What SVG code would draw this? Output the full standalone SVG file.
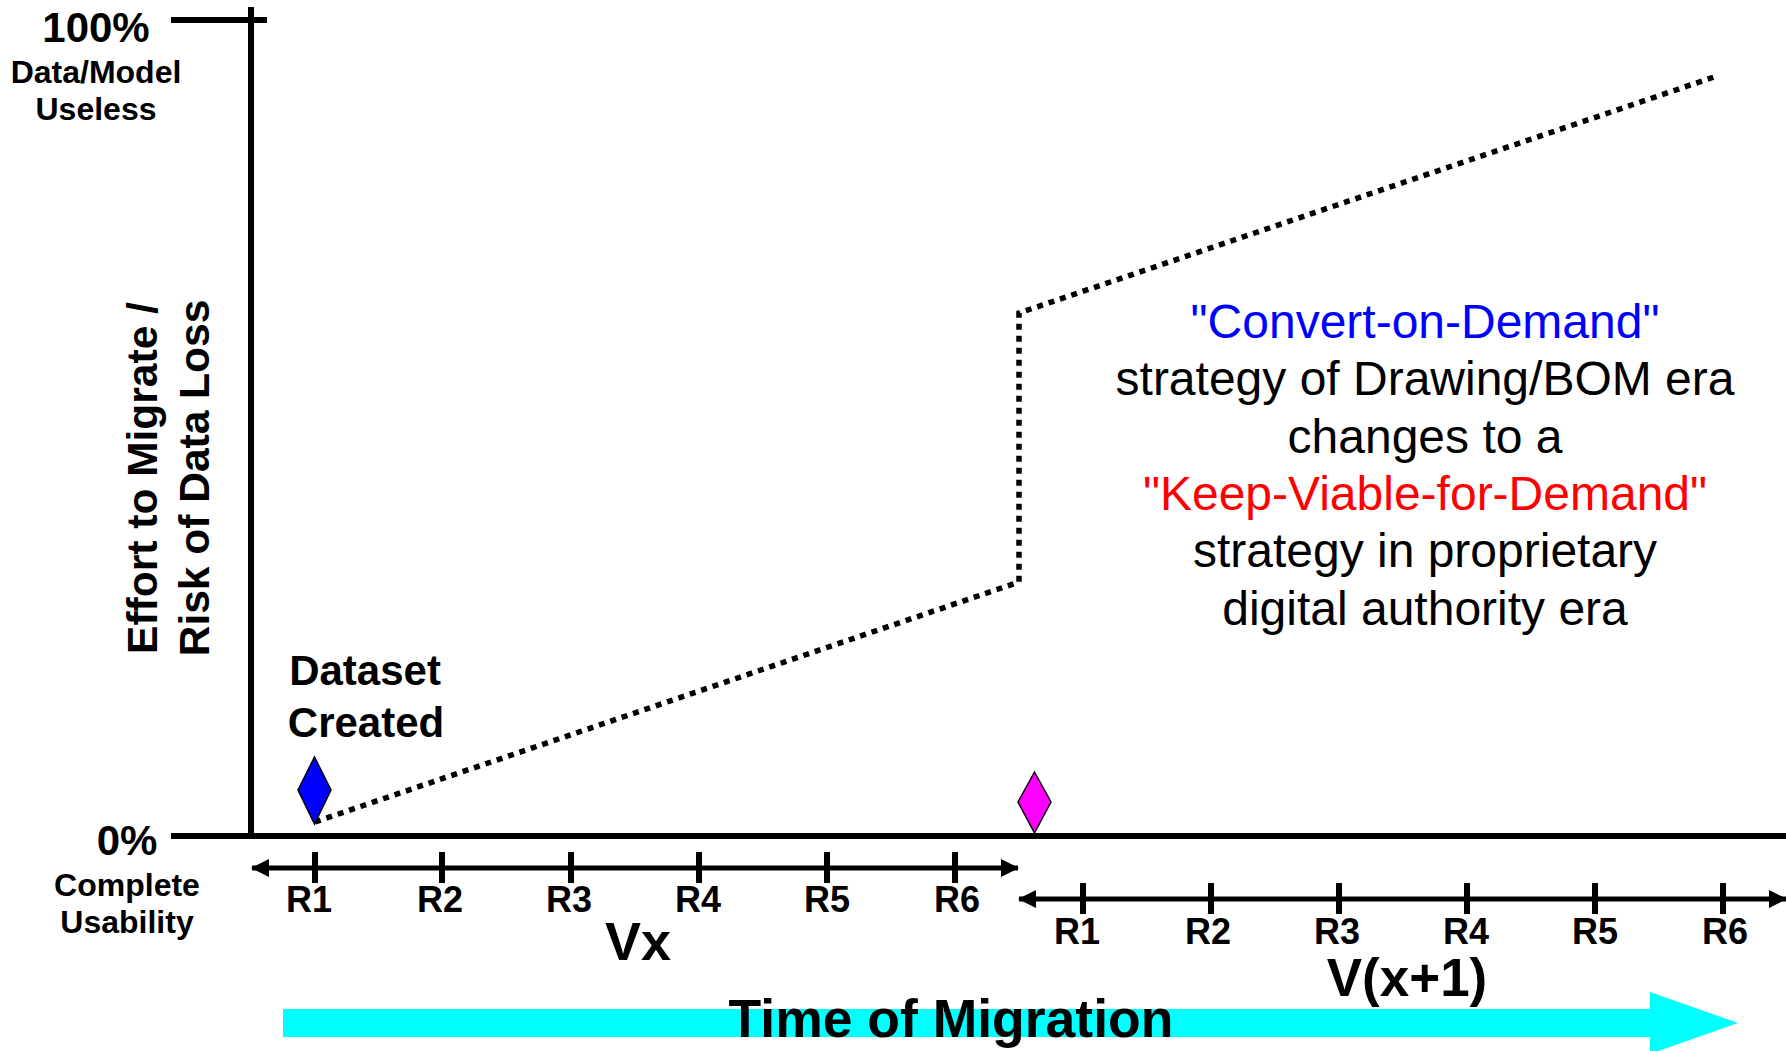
<svg xmlns="http://www.w3.org/2000/svg" width="1786" height="1051" viewBox="0 0 1786 1051">
<style>
.b{font-family:"Liberation Sans",Arial,sans-serif;font-weight:bold;fill:#000;text-anchor:middle}
.r{font-family:"Liberation Sans",Arial,sans-serif;font-size:48px;text-anchor:middle;fill:#000}
.axis{stroke:#000;stroke-width:6;fill:none}
.ruler{stroke:#000;stroke-width:5;fill:none}
.tick{stroke:#000;stroke-width:6}
.rl{font-size:36px}
.dot{stroke:#000;stroke-width:5.5;stroke-dasharray:6 6;fill:none}
</style>
<defs>
<marker id="ah" viewBox="0 0 18 18" refX="17" refY="9" markerWidth="18" markerHeight="18" markerUnits="userSpaceOnUse" orient="auto-start-reverse">
<path d="M0,0 L18,9 L0,18 Z" fill="#000"/>
</marker>
</defs>
<g id="cyan-arrow">
<path d="M283,1009 L1650,1009 L1650,992 L1738,1023 L1650,1054 L1650,1037 L283,1037 Z" fill="#00ffff"/>
<text class="b" x="951" y="1037" font-size="53.5">Time of Migration</text>
</g>
<g id="axes">
<line class="axis" x1="251" y1="7" x2="251" y2="839"/>
<line class="axis" x1="171" y1="20" x2="267" y2="20"/>
<line class="axis" x1="171" y1="836" x2="1786" y2="836"/>
</g>
<g id="y-labels">
<text class="b" x="96" y="42" font-size="42">100%</text>
<text class="b" x="96" y="83" font-size="32">Data/Model</text>
<text class="b" x="96" y="120" font-size="32">Useless</text>
<text class="b" x="127" y="855" font-size="42">0%</text>
<text class="b" x="127" y="896" font-size="32">Complete</text>
<text class="b" x="127" y="933" font-size="32">Usability</text>
<text class="b" font-size="42.5" transform="translate(157,478) rotate(-90)">Effort to Migrate /</text>
<text class="b" font-size="42.5" transform="translate(209,478) rotate(-90)">Risk of Data Loss</text>
</g>
<g id="connectors">
<path class="dot" d="M315,822 L1019,582 L1019,313 L1717,76"/>
</g>
<g id="dataset-created">
<polygon points="314.5,757 331,790 314.5,824 298,790" fill="#0000ff" stroke="#000" stroke-width="1.5"/>
<text class="b" x="365" y="685" font-size="42">Dataset</text>
<text class="b" x="366" y="737" font-size="42">Created</text>
</g>
<g id="magenta-marker">
<polygon points="1034.5,772 1051,802 1034.5,833 1018,802" fill="#ff00ff" stroke="#000" stroke-width="1.5"/>
</g>
<g id="ruler-vx">
<line class="ruler" x1="252" y1="868" x2="1018" y2="868" marker-start="url(#ah)" marker-end="url(#ah)"/>
<line class="tick" x1="315" y1="852" x2="315" y2="883"/>
<line class="tick" x1="442" y1="852" x2="442" y2="883"/>
<line class="tick" x1="571" y1="852" x2="571" y2="883"/>
<line class="tick" x1="699" y1="852" x2="699" y2="883"/>
<line class="tick" x1="827" y1="852" x2="827" y2="883"/>
<line class="tick" x1="955" y1="852" x2="955" y2="883"/>
<text class="b rl" x="309" y="912">R1</text>
<text class="b rl" x="440" y="912">R2</text>
<text class="b rl" x="569" y="912">R3</text>
<text class="b rl" x="698" y="912">R4</text>
<text class="b rl" x="827" y="912">R5</text>
<text class="b rl" x="957" y="912">R6</text>
<text class="b" x="638" y="960" font-size="54">Vx</text>
</g>
<g id="ruler-vx1">
<line class="ruler" x1="1019" y1="899" x2="1786" y2="899" marker-start="url(#ah)" marker-end="url(#ah)"/>
<line class="tick" x1="1083" y1="883" x2="1083" y2="914"/>
<line class="tick" x1="1211" y1="883" x2="1211" y2="914"/>
<line class="tick" x1="1339" y1="883" x2="1339" y2="914"/>
<line class="tick" x1="1467" y1="883" x2="1467" y2="914"/>
<line class="tick" x1="1595" y1="883" x2="1595" y2="914"/>
<line class="tick" x1="1723" y1="883" x2="1723" y2="914"/>
<text class="b rl" x="1077" y="944">R1</text>
<text class="b rl" x="1208" y="944">R2</text>
<text class="b rl" x="1337" y="944">R3</text>
<text class="b rl" x="1466" y="944">R4</text>
<text class="b rl" x="1595" y="944">R5</text>
<text class="b rl" x="1725" y="944">R6</text>
<text class="b" x="1407" y="996" font-size="53">V(x+1)</text>
</g>
<g id="strategy-note">
<text class="r" x="1425" y="338" style="fill:#0000ff">"Convert-on-Demand"</text>
<text class="r" x="1425" y="395">strategy of Drawing/BOM era</text>
<text class="r" x="1425" y="453">changes to a</text>
<text class="r" x="1425" y="510" style="fill:#ff0000">"Keep-Viable-for-Demand"</text>
<text class="r" x="1425" y="567">strategy in proprietary</text>
<text class="r" x="1425" y="625">digital authority era</text>
</g>
</svg>
